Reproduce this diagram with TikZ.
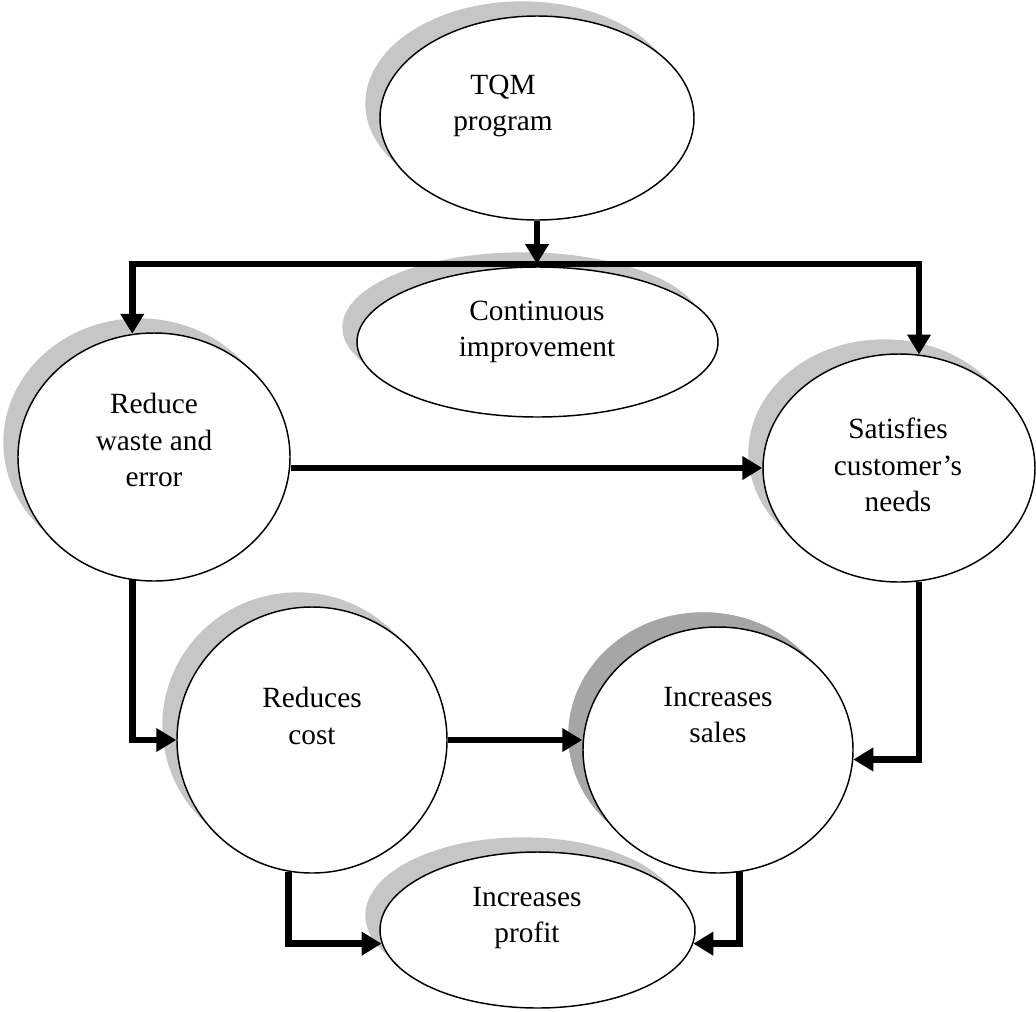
\documentclass[tikz,border=0pt]{standalone}
\usepackage{fontspec}
\setmainfont{Liberation Serif}
\usetikzlibrary{shapes.geometric,shadows,arrows.meta}

\tikzset{every picture/.style={line width=0.75pt}}
\tikzset{
  bubble/.style={ellipse, draw, fill=white, line width=1.1pt, inner sep=0pt,
    drop shadow={shadow xshift=-11pt, shadow yshift=11pt, fill=gray!45, opacity=1}},
  darkbubble/.style={bubble,
    drop shadow={shadow xshift=-11pt, shadow yshift=11pt, fill=gray!70, opacity=1}},
  flow/.style={line width=5pt, -{Triangle[width=17pt,length=15pt]}},
  bubbletext/.style={align=center, font=\fontsize{22}{27.5}\selectfont}
}

\begin{document}
\begin{tikzpicture}[x=0.75pt,y=0.75pt,yscale=-1,xscale=1]
\useasboundingbox (0,0) rectangle (1036,1011);

%Shape: Ellipse [id:tqm]
\node[bubble, minimum width=235.5pt, minimum height=153pt] (tqm) at (537,118) {};
%Shape: Ellipse [id:cont]
\node[bubble, minimum width=270.75pt, minimum height=112.5pt] (cont) at (537.5,342) {};
%Shape: Ellipse [id:reduce]
\node[bubble, minimum width=204pt, minimum height=186pt] (reduce) at (154,457) {};
%Shape: Ellipse [id:satis]
\node[bubble, minimum width=204pt, minimum height=171pt] (satis) at (899,468) {};
%Shape: Ellipse [id:cost]
\node[bubble, minimum width=202.5pt, minimum height=199.5pt] (cost) at (312,740) {};
%Shape: Ellipse [id:sales]
\node[darkbubble, minimum width=202.5pt, minimum height=184.5pt] (sales) at (718,750) {};
%Shape: Ellipse [id:profit]
\node[bubble, minimum width=236.25pt, minimum height=117pt] (profit) at (537.5,930) {};

%Straight Lines [id:tqm-bus]
\coordinate (bus) at (537,264);
\draw[flow] (tqm.south) -- (bus);
%Straight Lines [id:bus-reduce]
\draw[flow] (bus) -| (reduce.100);
%Straight Lines [id:bus-satis]
\draw[flow] (bus) -| (satis.80);
%Straight Lines [id:reduce-satis]
\draw[flow] (reduce.east |- satis.west) -- (satis.west);
%Straight Lines [id:reduce-cost]
\draw[flow] (reduce.260) |- (cost.west);
%Straight Lines [id:satis-sales]
\draw[flow] (satis.280) |- (sales.-4);
%Straight Lines [id:cost-sales]
\draw[flow] (cost.east) -- (cost.east -| sales.west);
%Straight Lines [id:cost-profit]
\draw[flow] (cost.260) |- (profit.185);
%Straight Lines [id:sales-profit]
\draw[flow] (sales.280) |- (profit.-5);

% Text Node
\node[bubbletext] (tqmtext) at (503,106) {TQM\\program};
% Text Node
\node[bubbletext] (conttext) at (537,332) {Continuous\\improvement};
% Text Node
\node[bubbletext] (reducetext) at (154,440) {Reduce\\waste and\\error};
% Text Node
\node[bubbletext] (satistext) at (898,465) {Satisfies\\customer’s\\needs};
% Text Node
\node[bubbletext] (costtext) at (312,716) {Reduces\\cost};
% Text Node
\node[bubbletext] (salestext) at (718,715) {Increases\\sales};
% Text Node
\node[bubbletext] (profittext) at (527,918) {Increases\\profit};

\end{tikzpicture}
\end{document}
